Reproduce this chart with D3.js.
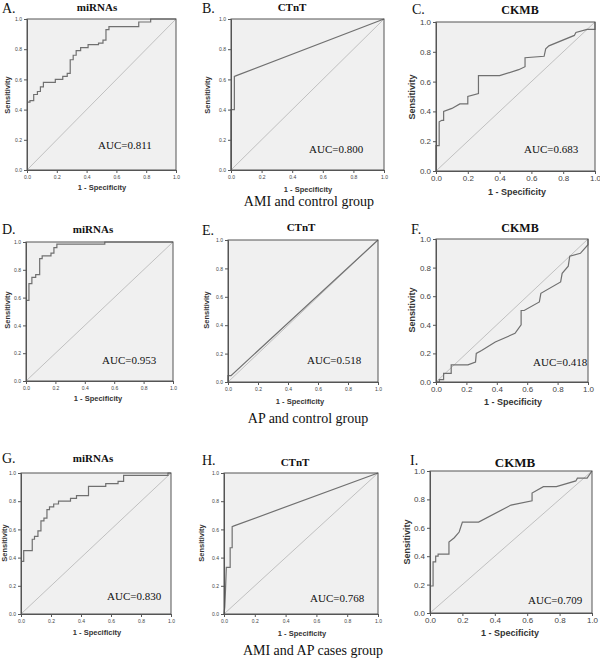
<!DOCTYPE html>
<html><head><meta charset="utf-8">
<script src="https://cdn.jsdelivr.net/npm/d3@7"></script>
<style>html,body{margin:0;padding:0;background:#fff}</style>
</head><body>
<svg id="c" width="600" height="658"></svg>
<script>
// ---- data ----
const tickValues = [0.0, 0.2, 0.4, 0.6, 0.8, 1.0];
const panelLetters = ["A.", "B.", "C.", "D.", "E.", "F.", "G.", "H.", "I."];
const panelTitles = ["miRNAs", "CTnT", "CKMB", "miRNAs", "CTnT", "CKMB", "miRNAs", "CTnT", "CKMB"];
const aucLabels = ["AUC=0.811", "AUC=0.800", "AUC=0.683", "AUC=0.953", "AUC=0.518", "AUC=0.418", "AUC=0.830", "AUC=0.768", "AUC=0.709"];
const groupLabels = ["AMI and control group", "AP and control group", "AMI and AP cases group"];

// ROC curves: [1 - specificity, sensitivity]
const rocA = [[0,0.45],[0.02,0.45],[0.02,0.46],[0.045,0.46],[0.045,0.50],[0.07,0.50],[0.07,0.52],[0.09,0.52],[0.09,0.55],[0.11,0.55],[0.11,0.58],[0.19,0.58],[0.19,0.60],[0.24,0.60],[0.24,0.62],[0.27,0.62],[0.27,0.64],[0.29,0.64],[0.29,0.73],[0.31,0.73],[0.31,0.76],[0.33,0.76],[0.33,0.79],[0.36,0.79],[0.36,0.81],[0.41,0.81],[0.41,0.83],[0.48,0.83],[0.48,0.84],[0.51,0.84],[0.51,0.86],[0.53,0.86],[0.53,0.93],[0.55,0.93],[0.55,0.95],[0.75,0.95],[0.75,0.98],[0.83,0.98],[0.83,1.0],[1,1]];
const rocB = [[0,0],[0,0.40],[0.022,0.40],[0.022,0.62],[0.035,0.625],[1,1]];
const rocC = [[0,0],[0,0.17],[0.02,0.17],[0.02,0.33],[0.037,0.34],[0.048,0.34],[0.048,0.40],[0.10,0.42],[0.15,0.45],[0.20,0.45],[0.20,0.50],[0.267,0.52],[0.267,0.64],[0.40,0.64],[0.52,0.68],[0.56,0.70],[0.56,0.76],[0.68,0.77],[0.69,0.82],[0.71,0.84],[0.87,0.91],[0.88,0.93],[0.95,0.95],[1,0.95],[1,1]];
const rocD = [[0,0.58],[0.02,0.58],[0.02,0.70],[0.04,0.70],[0.04,0.745],[0.066,0.745],[0.066,0.765],[0.093,0.765],[0.093,0.88],[0.11,0.88],[0.11,0.90],[0.17,0.90],[0.17,0.92],[0.19,0.92],[0.19,0.96],[0.21,0.96],[0.21,0.985],[0.536,0.985],[0.536,1.0],[1,1]];
const rocE = [[0,0],[0,0.045],[0.02,0.045],[1,1]];
const rocF = [[0,0],[0.022,0],[0.022,0.016],[0.05,0.016],[0.05,0.06],[0.10,0.06],[0.10,0.12],[0.21,0.12],[0.26,0.14],[0.265,0.20],[0.30,0.22],[0.39,0.28],[0.52,0.34],[0.56,0.40],[0.56,0.50],[0.58,0.50],[0.68,0.56],[0.69,0.62],[0.82,0.70],[0.83,0.76],[0.87,0.81],[0.88,0.88],[0.95,0.90],[1,0.96],[1,1]];
const rocG = [[0,0.373],[0.018,0.373],[0.018,0.45],[0.075,0.45],[0.075,0.53],[0.09,0.53],[0.09,0.55],[0.113,0.55],[0.113,0.59],[0.133,0.59],[0.133,0.66],[0.153,0.66],[0.153,0.68],[0.173,0.68],[0.173,0.74],[0.19,0.74],[0.19,0.76],[0.218,0.76],[0.218,0.78],[0.25,0.78],[0.25,0.80],[0.33,0.80],[0.33,0.82],[0.37,0.82],[0.37,0.84],[0.45,0.84],[0.45,0.905],[0.565,0.905],[0.565,0.925],[0.647,0.925],[0.647,0.94],[0.684,0.94],[0.684,0.983],[0.98,0.983],[0.98,1.0],[1,1]];
const rocH = [[0,0],[0.005,0.05],[0.009,0.15],[0.015,0.33],[0.04,0.33],[0.04,0.47],[0.053,0.47],[0.053,0.62],[0.065,0.625],[1,1]];
const rocI = [[0,0.19],[0.019,0.19],[0.019,0.36],[0.035,0.36],[0.035,0.40],[0.05,0.40],[0.05,0.415],[0.117,0.415],[0.117,0.50],[0.15,0.53],[0.18,0.57],[0.20,0.64],[0.30,0.64],[0.50,0.76],[0.63,0.79],[0.63,0.845],[0.70,0.89],[0.78,0.89],[0.90,0.93],[0.91,0.95],[0.97,0.95],[1,1]];
const rocCurves = [rocA, rocB, rocC, rocD, rocE, rocF, rocG, rocH, rocI];

// ---- layout (positions only) ----
const layout = [
  {x0:27, x1:176, t:19, b:170, big:false, lx:2, ly:13, tx:97, ty:11, ax:98, ay:149, sx:7, sy:95, px:102, py:190},
  {x0:231, x1:384, t:19, b:170, big:false, lx:202, ly:13, tx:292, ty:11, ax:309, ay:153, sx:207, sy:95, px:308, py:192},
  {x0:436, x1:595, t:22, b:171, big:true, lx:412, ly:14, tx:520, ty:14, ax:524, ay:153, sx:412, sy:97, px:517, py:195},
  {x0:26, x1:173, t:242, b:381, big:false, lx:2, ly:234, tx:93, ty:233, ax:102, ay:364, sx:7, sy:310, px:98, py:401},
  {x0:228, x1:378, t:240, b:382, big:false, lx:202, ly:235, tx:301, ty:231, ax:307, ay:364, sx:206, sy:310, px:300, py:404},
  {x0:436, x1:588, t:239, b:382, big:true, lx:411, ly:234, tx:520, ty:232, ax:533, ay:366, sx:412, sy:310, px:513, py:405},
  {x0:21, x1:171, t:473, b:614, big:false, lx:2, ly:463, tx:93, ty:462, ax:107, ay:600, sx:4, sy:543, px:97, py:635},
  {x0:224, x1:378, t:473, b:614, big:false, lx:202, ly:465, tx:295, ty:466, ax:310, ay:602, sx:201, sy:543, px:302, py:636},
  {x0:430, x1:592, t:471, b:613, big:true, lx:410, ly:465, tx:515, ty:467, ax:528, ay:604, sx:407, sy:542, px:510, py:636, titleSize:13}
];
const groupPos = [{x:309, y:206}, {x:308, y:423}, {x:313, y:655}];

const svg = d3.select("#c");
const serif = "'Liberation Serif','Times New Roman',serif";
const sans = "'Liberation Sans',Arial,sans-serif";

rocCurves.forEach((data, i) => {
  const L = layout[i];
  const x = d3.scaleLinear().domain([0, 1]).range([L.x0, L.x1]);
  const y = d3.scaleLinear().domain([0, 1]).range([L.b, L.t]);
  const g = svg.append("g");

  g.append("rect").attr("x", L.x0).attr("y", L.t)
    .attr("width", L.x1 - L.x0).attr("height", L.b - L.t)
    .attr("fill", "#f0f0f0");

  g.append("path").datum([[0, 0], [1, 1]])
    .attr("d", d3.line().x(d => x(d[0])).y(d => y(d[1])))
    .attr("stroke", "#b4b4b4").attr("stroke-width", 0.8).attr("fill", "none");

  g.append("path").datum(data)
    .attr("d", d3.line().x(d => x(d[0])).y(d => y(d[1])))
    .attr("stroke", "#707070").attr("stroke-width", 1.2).attr("fill", "none");

  g.append("rect").attr("x", L.x0).attr("y", L.t)
    .attr("width", L.x1 - L.x0).attr("height", L.b - L.t)
    .attr("fill", "none").attr("stroke", "#555").attr("stroke-width", 1);

  const fs = L.big ? 8 : 5;
  const tk = 3;
  const xa = g.append("g").attr("transform", `translate(0,${L.b})`)
    .call(d3.axisBottom(x).tickValues(tickValues).tickFormat(d3.format(".1f")).tickSize(tk).tickPadding(L.big ? 1.5 : 2));
  const ya = g.append("g").attr("transform", `translate(${L.x0},0)`)
    .call(d3.axisLeft(y).tickValues(tickValues).tickFormat(d3.format(".1f")).tickSize(tk).tickPadding(2));
  [xa, ya].forEach(a => {
    a.select(".domain").attr("stroke", "#555");
    a.selectAll(".tick line").attr("stroke", "#555");
    a.selectAll(".tick text").attr("font-family", sans).attr("font-size", fs).attr("fill", "#444");
  });

  g.append("text").attr("x", L.lx).attr("y", L.ly).text(panelLetters[i])
    .attr("font-family", serif).attr("font-size", 14).attr("fill", "#111");
  g.append("text").attr("x", L.tx).attr("y", L.ty).text(panelTitles[i])
    .attr("text-anchor", "middle").attr("font-family", serif).attr("font-weight", "bold")
    .attr("font-size", L.titleSize || (L.big ? 12 : 11)).attr("fill", "#111");
  g.append("text").attr("x", L.ax).attr("y", L.ay).text(aucLabels[i])
    .attr("font-family", serif).attr("font-size", 11).attr("fill", "#111");
  g.append("text").attr("transform", `translate(${L.sx + 3},${L.sy}) rotate(-90)`).text("Sensitivity")
    .attr("text-anchor", "middle").attr("font-family", sans).attr("font-weight", "bold")
    .attr("font-size", L.big ? 9 : 7.5).attr("fill", "#333");
  g.append("text").attr("x", L.px).attr("y", L.py).text("1 - Specificity")
    .attr("text-anchor", "middle").attr("font-family", sans).attr("font-weight", "bold")
    .attr("font-size", L.big ? 9 : 7.5).attr("fill", "#333");
});

groupLabels.forEach((t, i) => {
  svg.append("text").attr("x", groupPos[i].x).attr("y", groupPos[i].y).text(t)
    .attr("text-anchor", "middle").attr("font-family", serif)
    .attr("font-size", 14).attr("fill", "#111");
});
</script>
</body></html>
